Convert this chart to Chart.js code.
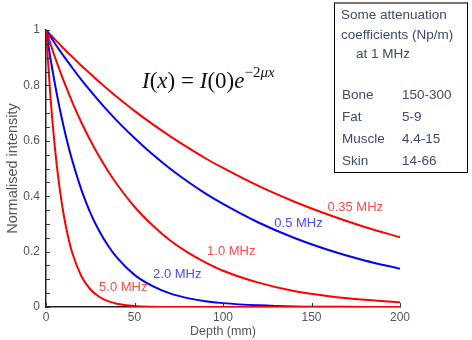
<!DOCTYPE html>
<html>
<head>
<meta charset="utf-8">
<script src="https://cdn.jsdelivr.net/npm/chart.js@4.4.1/dist/chart.umd.min.js"></script>
<style>
  body { margin:0; background:#fff; }
  #wrap { position:relative; width:472px; height:340px; }
  #formula { position:absolute; left:142px; top:61px; font-family:"Liberation Serif","DejaVu Serif",serif; font-size:23px; line-height:26px; color:#111; white-space:nowrap; }
  #formula i { font-style:italic; }
  #formula sup { font-size:15px; position:relative; top:-2px; }
  #box { position:absolute; left:334px; top:2px; width:134px; height:171px; border:1px solid #000; border-top:2px solid #777; box-sizing:border-box; font-family:"Liberation Sans",Arial,sans-serif; font-size:13.5px; color:#3d4a6a; }
  #box div { position:absolute; white-space:nowrap; }
</style>
</head>
<body>
<div id="wrap">
  <canvas id="attChart" width="472" height="340"></canvas>
  <div id="formula"><i>I</i>(<i>x</i>) = <i>I</i>(0)<i>e</i><sup>&minus;2<i>&mu;x</i></sup></div>
  <div id="box">
    <div style="left:6px;top:3px">Some attenuation</div>
    <div style="left:6px;top:23px">coefficients (Np/m)</div>
    <div style="left:21px;top:42px">at 1 MHz</div>
    <div style="left:7px;top:83px">Bone</div><div style="left:67px;top:83px">150-300</div>
    <div style="left:7px;top:105px">Fat</div><div style="left:67px;top:105px">5-9</div>
    <div style="left:7px;top:127px">Muscle</div><div style="left:67px;top:127px">4.4-15</div>
    <div style="left:7px;top:149px">Skin</div><div style="left:67px;top:149px">14-66</div>
  </div>
</div>
<script>
// depth in mm, intensity
const depths = [0, 2.5, 5, 7.5, 10, 12.5, 15, 20, 25, 30, 35, 40, 50, 60, 70, 80, 90, 100, 120, 140, 160, 180, 200];
const f035 = [1, 0.983, 0.966, 0.950, 0.933, 0.917, 0.902, 0.871, 0.842, 0.813, 0.785, 0.759, 0.708, 0.661, 0.617, 0.576, 0.537, 0.502, 0.437, 0.381, 0.332, 0.289, 0.252];
const f05  = [1, 0.976, 0.952, 0.928, 0.906, 0.884, 0.862, 0.820, 0.781, 0.743, 0.707, 0.673, 0.610, 0.552, 0.500, 0.453, 0.410, 0.372, 0.305, 0.250, 0.205, 0.168, 0.138];
const f10  = [1, 0.951, 0.903, 0.859, 0.816, 0.776, 0.737, 0.666, 0.602, 0.544, 0.491, 0.444, 0.362, 0.296, 0.241, 0.197, 0.161, 0.131, 0.088, 0.058, 0.039, 0.026, 0.017];
const f20  = [1, 0.898, 0.807, 0.724, 0.651, 0.584, 0.525, 0.423, 0.341, 0.275, 0.222, 0.179, 0.116, 0.076, 0.049, 0.032, 0.021, 0.014, 0.006, 0.002, 0.001, 0, 0];
const f50  = [1, 0.760, 0.577, 0.438, 0.333, 0.253, 0.192, 0.111, 0.064, 0.037, 0.021, 0.012, 0.004, 0.001, 0, 0, 0, 0, 0, 0, 0, 0, 0];

const xTicks = [0, 50, 100, 150, 200];
const yTicks = [0, 0.2, 0.4, 0.6, 0.8, 1];

// curve labels: [text, depth, intensity, colour]
const curveLabels = [
  ["0.35 MHz", 159, 0.361, "#ff4a4a"],
  ["0.5 MHz", 129, 0.303, "#4a4aff"],
  ["1.0 MHz", 91, 0.199, "#ff4a4a"],
  ["2.0 MHz", 60.5, 0.119, "#4a4aff"],
  ["5.0 MHz", 30, 0.069, "#ff4a4a"]
];

function pts(vals){
  return depths.map((d, i) => ({x: d, y: vals[i]}));
}
function line(label, vals, col){
  return {label: label, data: pts(vals), borderColor: col, backgroundColor: col,
    borderWidth: 2, pointRadius: 0, cubicInterpolationMode: 'monotone', fill: false};
}

const extras = {
  id: 'extras',
  afterDatasetsDraw(chart){
    const ctx = chart.ctx, xs = chart.scales.x, ys = chart.scales.y;
    ctx.save();
    ctx.strokeStyle = '#333';
    ctx.lineWidth = 1;
    // inward ticks
    for (let v = 0; v <= 1.0001; v += 0.05){
      const py = Math.round(ys.getPixelForValue(v)) + 0.5;
      ctx.beginPath(); ctx.moveTo(xs.left, py); ctx.lineTo(xs.left + 4, py); ctx.stroke();
    }
    xTicks.forEach(v => {
      const px = Math.round(xs.getPixelForValue(v)) + 0.5;
      ctx.beginPath(); ctx.moveTo(px, ys.bottom); ctx.lineTo(px, ys.bottom - 4); ctx.stroke();
    });
    ctx.font = '13px "Liberation Sans", Arial, sans-serif';
    ctx.textBaseline = 'middle';
    curveLabels.forEach(l => {
      ctx.fillStyle = l[3];
      ctx.fillText(l[0], xs.getPixelForValue(l[1]), ys.getPixelForValue(l[2]));
    });
    ctx.restore();
  }
};

const fam = '"Liberation Sans", Arial, sans-serif';

new Chart(document.getElementById('attChart').getContext('2d'), {
  type: 'line',
  data: {
    datasets: [
      line('5.0 MHz', f50, '#ff0000'),
      line('2.0 MHz', f20, '#0000ff'),
      line('1.0 MHz', f10, '#ff0000'),
      line('0.5 MHz', f05, '#0000ff'),
      line('0.35 MHz', f035, '#ff0000')
    ]
  },
  options: {
    responsive: false,
    animation: false,
    layout: {padding: {left: 0, top: 30, right: 72, bottom: 0}},
    plugins: {legend: {display: false}, tooltip: {enabled: false}},
    scales: {
      x: {
        type: 'linear', min: 0, max: 200,
        afterBuildTicks: s => { s.ticks = xTicks.map(v => ({value: v})); },
        afterFit: s => { s.height = 33; },
        grid: {display: false, drawTicks: false},
        border: {color: '#222', width: 1.5},
        ticks: {color: '#555', font: {family: fam, size: 12}, padding: 3, maxRotation: 0},
        title: {display: true, text: 'Depth (mm)', color: '#555', font: {family: fam, size: 12.5}, padding: {top: 0, bottom: 1}}
      },
      y: {
        min: 0, max: 1,
        afterBuildTicks: s => { s.ticks = yTicks.map(v => ({value: v})); },
        afterFit: s => { s.width = 46; },
        grid: {display: false, drawTicks: false},
        border: {color: '#222', width: 1.5},
        ticks: {color: '#555', font: {family: fam, size: 12}, padding: 6, callback: v => String(Math.round(v * 10) / 10)},
        title: {display: true, text: 'Normalised intensity', color: '#555', font: {family: fam, size: 14.5}, padding: {top: 4, bottom: 0}}
      }
    }
  },
  plugins: [extras]
});
</script>
</body>
</html>
